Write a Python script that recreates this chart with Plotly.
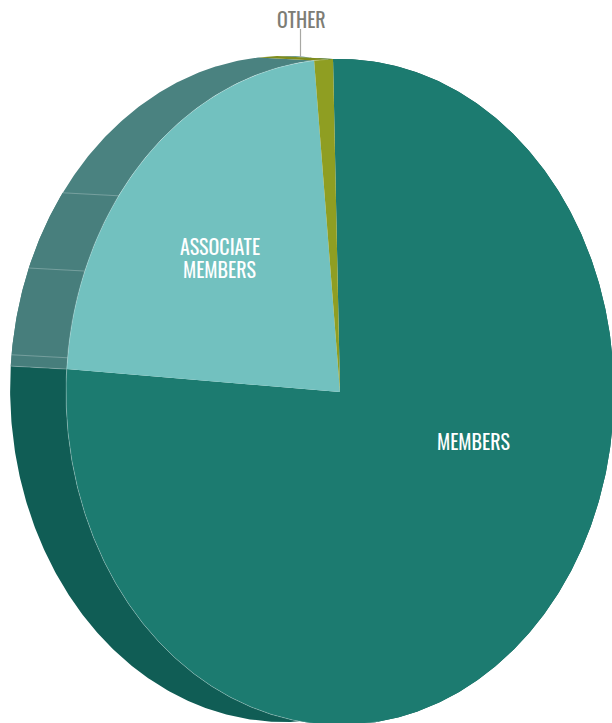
import numpy as np
import plotly.graph_objects as go

# Share of each group, in percent
categories = ["MEMBERS", "ASSOCIATE MEMBERS", "OTHER"]
shares = [76.5, 22.4, 1.1]
top_colors = ["#1c7b70", "#72c1bf", "#8f9e22"]
side_colors = ["#105d55", "#4a8280", "#7f8c1c"]

# The first slice starts just left of twelve o'clock and runs clockwise
start_angle = -1.46
# Facet edges on the associate members' wall, degrees clockwise from the top
seam_angles = [275.9, 291.3, 306.1]
# Shade of the wall between the lower facet edges
facet_colors = ["#477e7c", "#487f7d"]

# The disc is drawn on a unit circle; the axes squeeze it into an ellipse
DEPTH_X, DEPTH_Y = -0.204, 0.009
X_RANGE = [-340 / 274, 272 / 274]
Y_RANGE = [-331 / 333, 392 / 333]


def arc(a0, a1, dx=0.0, dy=0.0):
    t = np.radians(np.linspace(a0, a1, max(int(abs(a1 - a0) * 2), 8)))
    return np.sin(t) + dx, np.cos(t) + dy


def wall(a0, a1, color, name):
    x0, y0 = arc(a0, a1)
    x1, y1 = arc(a1, a0, DEPTH_X, DEPTH_Y)
    fig.add_trace(go.Scatter(
        x=np.r_[x0, x1, x0[0]], y=np.r_[y0, y1, y0[0]],
        mode="lines", fill="toself", fillcolor=color,
        line=dict(width=0), name=name, hoverinfo="skip", showlegend=False,
    ))


fig = go.Figure()
edges = np.cumsum([0] + shares) * 3.6 + start_angle
bounds = list(zip(edges[:-1], edges[1:]))

# Extruded wall of each slice, below the top faces
for name, (a0, a1), color in zip(categories, bounds, side_colors):
    wall(a0, a1, color, name)
for a0, a1, color in zip(seam_angles[:-1], seam_angles[1:], facet_colors):
    wall(a0, a1, color, categories[1])
wall(edges[1], seam_angles[0], facet_colors[0], categories[1])

# Faint seams across the wall
for a in seam_angles + [edges[1]]:
    x0, y0 = arc(a, a + 0.01)
    fig.add_trace(go.Scatter(
        x=[x0[0], x0[0] + DEPTH_X], y=[y0[0], y0[0] + DEPTH_Y],
        mode="lines", line=dict(color="rgba(255,255,255,0.25)", width=1),
        hoverinfo="skip", showlegend=False,
    ))

# Top faces
for name, (a0, a1), color in zip(categories, bounds, top_colors):
    x0, y0 = arc(a0, a1)
    fig.add_trace(go.Scatter(
        x=np.r_[0, x0, 0], y=np.r_[0, y0, 0],
        mode="lines", fill="toself", fillcolor=color,
        line=dict(width=0), name=name, showlegend=False,
        hovertemplate="%{fullData.name}<extra></extra>",
    ))

# Light rim where the top face meets the wall
rx, ry = arc(172, edges[2] + 3)
fig.add_trace(go.Scatter(
    x=rx, y=ry, mode="lines",
    line=dict(color="rgba(255,255,255,0.25)", width=1),
    hoverinfo="skip", showlegend=False,
))


def px_x(p):
    return (p - 340) / 274


def px_y(p):
    return (392 - p) / 333


# Leader line for the smallest slice
fig.add_trace(go.Scatter(
    x=[px_x(300.5), px_x(300.5)], y=[px_y(29), px_y(57)],
    mode="lines", line=dict(color="#a8a8a4", width=1.2),
    hoverinfo="skip", showlegend=False,
))

FONT = "Oswald, Roboto Condensed, sans-serif"
labels = [
    (px_x(473), px_y(441), "MEMBERS", "#ffffff"),
    (px_x(219.5), px_y(246), "ASSOCIATE", "#ffffff"),
    (px_x(219.5), px_y(269), "MEMBERS", "#ffffff"),
    (px_x(301), px_y(19), "OTHER", "#7d7d75"),
]
for x, y, text, color in labels:
    fig.add_annotation(
        x=x, y=y, text=text, showarrow=False, xanchor="center", yanchor="middle",
        font=dict(family=FONT, size=20, color=color, weight=400),
    )

fig.update_layout(
    width=612, height=723, margin=dict(l=0, r=0, t=0, b=0),
    paper_bgcolor="white", plot_bgcolor="white",
    xaxis=dict(range=X_RANGE, visible=False, fixedrange=True),
    yaxis=dict(range=Y_RANGE, visible=False, fixedrange=True),
)
fig.write_html("out.html", config=dict(displayModeBar=False))
